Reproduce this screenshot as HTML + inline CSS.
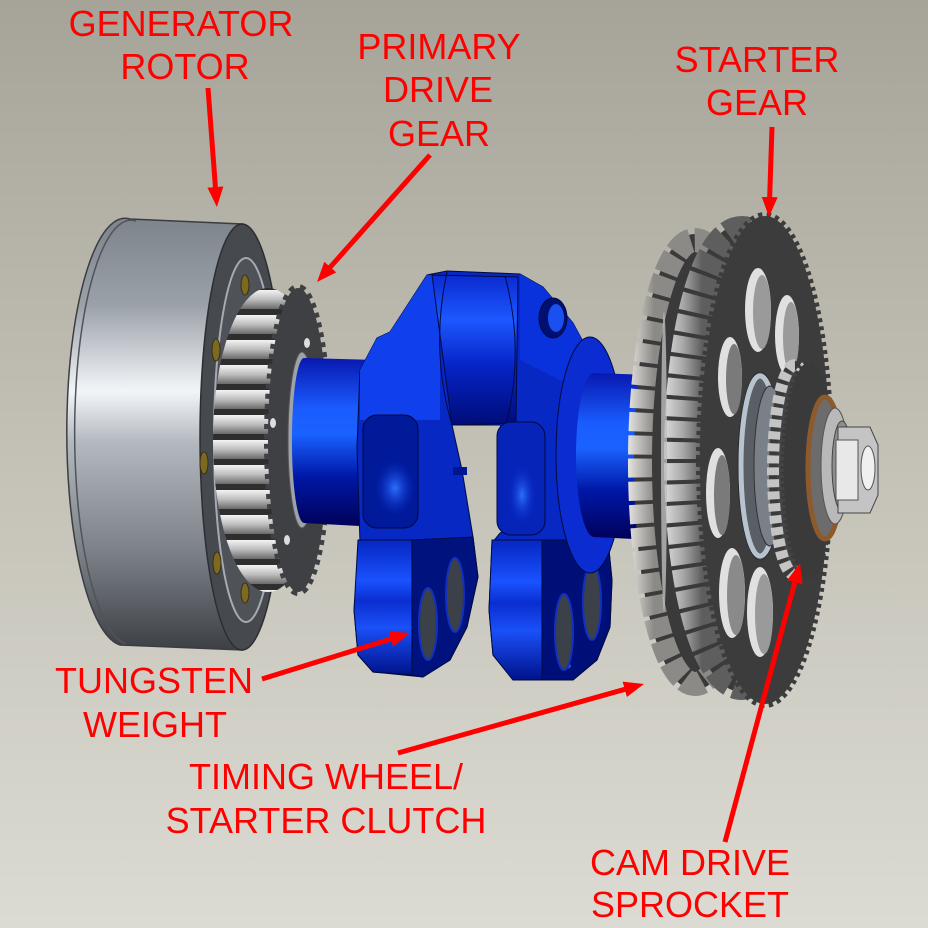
<!DOCTYPE html>
<html><head><meta charset="utf-8"><style>html,body{margin:0;padding:0;width:928px;height:928px;overflow:hidden;background:#c4c2b7}svg{display:block}</style></head>
<body>
<svg width="928" height="928" viewBox="0 0 928 928" xmlns="http://www.w3.org/2000/svg">
<defs>
 <linearGradient id="bg" x1="0" y1="0" x2="0" y2="1"><stop offset="0" stop-color="#a6a398"/><stop offset="0.5" stop-color="#c4c2b7"/><stop offset="1" stop-color="#dcdbd3"/></linearGradient>
 <linearGradient id="rot" x1="0" y1="219" x2="0" y2="650" gradientUnits="userSpaceOnUse">
  <stop offset="0" stop-color="#7e848c"/><stop offset="0.2" stop-color="#9ba1a9"/><stop offset="0.4" stop-color="#f2f5f8"/><stop offset="0.52" stop-color="#b3b8bf"/><stop offset="0.78" stop-color="#7a7f86"/><stop offset="1" stop-color="#3c4045"/></linearGradient>
 <linearGradient id="blue" x1="0" y1="0" x2="0" y2="1"><stop offset="0" stop-color="#0818b0"/><stop offset="0.3" stop-color="#1a5cff"/><stop offset="0.45" stop-color="#1a62ff"/><stop offset="0.7" stop-color="#0018a8"/><stop offset="1" stop-color="#000058"/></linearGradient>
 <linearGradient id="pin" x1="0" y1="0" x2="0" y2="1"><stop offset="0" stop-color="#0a2ad0"/><stop offset="0.3" stop-color="#1d58ff"/><stop offset="0.6" stop-color="#0624c8"/><stop offset="1" stop-color="#000c78"/></linearGradient>
 <linearGradient id="face" x1="0" y1="0" x2="0" y2="1"><stop offset="0" stop-color="#0626c0"/><stop offset="0.3" stop-color="#1a52ff"/><stop offset="0.45" stop-color="#0a2ed0"/><stop offset="0.65" stop-color="#1a50f8"/><stop offset="1" stop-color="#00128a"/></linearGradient>
 <linearGradient id="silv" x1="0" y1="0" x2="0" y2="1"><stop offset="0" stop-color="#f4f4f4"/><stop offset="0.5" stop-color="#bdbdbd"/><stop offset="1" stop-color="#6a6a6a"/></linearGradient>
 <linearGradient id="tw" x1="628" y1="0" x2="654" y2="0" gradientUnits="userSpaceOnUse"><stop offset="0" stop-color="#e6e4e0"/><stop offset="1" stop-color="#8c8a86"/></linearGradient>
 <linearGradient id="sb" x1="664" y1="0" x2="702" y2="0" gradientUnits="userSpaceOnUse"><stop offset="0" stop-color="#dcdcdc"/><stop offset="0.5" stop-color="#a8a8a8"/><stop offset="1" stop-color="#5e5e5e"/></linearGradient>
 <pattern id="teethL" patternUnits="userSpaceOnUse" x="0" y="288" width="100" height="25">
  <rect width="100" height="25" fill="#2e2e2e"/>
  <rect y="2" width="100" height="19" fill="url(#silv)"/>
 </pattern>
 <radialGradient id="hl" cx="0.5" cy="0.5" r="0.5"><stop offset="0" stop-color="#2c70ff"/><stop offset="1" stop-color="#0a2ac8" stop-opacity="0"/></radialGradient>
 <marker id="ah" viewBox="0 0 20 16" refX="8" refY="8" markerWidth="20" markerHeight="16" markerUnits="userSpaceOnUse" orient="auto"><path d="M0,0 L20,8 L0,16 Z" fill="#ff0000"/></marker>
</defs>
<rect width="928" height="928" fill="url(#bg)"/>

<!-- Generator rotor -->
<path d="M130,219 L242,224 L242,650 L120,645 A58,213 0 0 1 130,219 Z" fill="url(#rot)" stroke="#3a3d42" stroke-width="1.5"/>
<path d="M136,221 A56,211 0 0 0 126,644" fill="none" stroke="#50545a" stroke-width="1.5"/>
<ellipse cx="242" cy="437" rx="42" ry="213" fill="#46494e" stroke="#2c2e32" stroke-width="1.5"/>
<ellipse cx="246" cy="440" rx="32" ry="182" fill="#4f5258" stroke="#a5abb1" stroke-width="2"/>
<g fill="#7d6a22" stroke="#3a3010" stroke-width="1">
 <ellipse cx="245" cy="285" rx="4" ry="10"/><ellipse cx="216" cy="350" rx="4" ry="11"/><ellipse cx="204" cy="463" rx="4" ry="11"/><ellipse cx="217" cy="563" rx="4" ry="11"/><ellipse cx="245" cy="593" rx="4" ry="10"/>
</g>

<!-- Primary drive gear -->
<ellipse cx="268" cy="440" rx="55" ry="152" fill="url(#teethL)"/>
<ellipse cx="298" cy="440" rx="30" ry="152" fill="#3e4043"/>
<ellipse cx="298" cy="440" rx="30" ry="152" fill="none" stroke="#3e4043" stroke-width="8" stroke-dasharray="5 5"/>
<g fill="#dddddd"><ellipse cx="307" cy="343" rx="3" ry="5"/><ellipse cx="273" cy="423" rx="3" ry="5"/><ellipse cx="287" cy="540" rx="3" ry="5"/></g>
<ellipse cx="302" cy="440" rx="14" ry="88" fill="#9ea3a8" stroke="#555" stroke-width="1"/>

<!-- Left journal -->
<path d="M304,358 L378,360 L378,527 L304,523 A12,82 0 0 1 304,358 Z" fill="url(#blue)"/>

<!-- Crank silhouette -->
<path d="M360,370 L377,338 L390,332 L427,275 L447,271 L520,274 L543,287 L573,323 L593,360 L605,380 L608,540 L612,580 L610,627 L597,660 L573,680 L513,680 L493,655 L489,610 L492,543 L500,533 L513,527 L520,493 L513,447 L500,425 L452,425 L462,470 L473,537 L478,577 L467,627 L450,660 L423,677 L373,672 L358,655 L354,610 L360,543 L357,447 Z" fill="#0828c4" stroke="#000a40" stroke-width="1"/>
<path d="M360,370 L377,338 L390,332 L427,275 L440,275 L440,420 L360,420 Z" fill="#1040ec"/>
<path d="M432,275 L518,277 L516,423 L452,425 Z" fill="url(#pin)" stroke="#000a40" stroke-width="1"/>
<path d="M447,272 Q430,350 452,425" fill="none" stroke="#000a40" stroke-width="1"/>
<path d="M505,276 Q525,350 506,425" fill="none" stroke="#000a40" stroke-width="1"/>
<path d="M520,274 L543,287 L573,323 L593,360 L600,380 L560,380 L520,360 Z" fill="#0a32dc"/>
<ellipse cx="553" cy="318" rx="14" ry="20" fill="#001070" stroke="#000a40"/>
<ellipse cx="556" cy="318" rx="8" ry="14" fill="#1a50f0"/>
<rect x="363" y="415" width="55" height="113" rx="14" fill="#001a9a" stroke="#000840"/>
<ellipse cx="395" cy="488" rx="20" ry="28" fill="url(#hl)"/>
<rect x="497" y="422" width="48" height="113" rx="14" fill="#0624b8" stroke="#000840"/>
<ellipse cx="522" cy="495" rx="14" ry="30" fill="url(#hl)"/>
<rect x="453" y="467" width="14" height="8" fill="#001590"/>
<path d="M358,540 L412,540 L412,675 L373,672 L358,655 L354,610 Z" fill="url(#face)" stroke="#000a40" stroke-width="1"/>
<path d="M412,540 L473,537 L478,577 L467,627 L450,660 L423,677 L412,675 Z" fill="#00127e" stroke="#000a40" stroke-width="1"/>
<path d="M492,540 L542,540 L542,680 L513,680 L493,655 L489,610 Z" fill="url(#face)" stroke="#000a40" stroke-width="1"/>
<path d="M542,540 L608,540 L612,580 L610,627 L597,660 L573,680 L542,680 Z" fill="#000f78" stroke="#000a40" stroke-width="1"/>
<ellipse cx="565" cy="666" rx="6" ry="3" fill="#1a50ff"/>
<g fill="#3c4048" stroke="#1030c0" stroke-width="2">
 <ellipse cx="428" cy="624" rx="9" ry="36"/><ellipse cx="455" cy="595" rx="9" ry="37"/>
 <ellipse cx="564" cy="632" rx="9" ry="38"/><ellipse cx="592" cy="602" rx="9" ry="38"/>
</g>
<ellipse cx="590" cy="455" rx="34" ry="118" fill="#0a2cd0" stroke="#000a40" stroke-width="1"/>
<path d="M594,373 L652,375 L652,540 L594,537 A18,82 0 0 1 594,373 Z" fill="url(#blue)"/>

<!-- Timing wheel -->
<ellipse cx="695" cy="462" rx="55" ry="222" fill="#3a3a3a" stroke="#3a3a3a" stroke-width="12"/>
<ellipse cx="695" cy="462" rx="55" ry="222" fill="none" stroke="url(#tw)" stroke-width="24" stroke-dasharray="19 4"/>
<!-- Starter gear back flanks -->
<ellipse cx="742" cy="458" rx="60" ry="224" fill="#3a3a3a" stroke="#3a3a3a" stroke-width="20"/>
<ellipse cx="742" cy="458" rx="60" ry="224" fill="none" stroke="url(#sb)" stroke-width="36" stroke-dasharray="17 4"/>
<ellipse cx="664" cy="462" rx="3" ry="150" fill="#bdbdbd" opacity="0.8"/>
<!-- Starter gear front -->
<ellipse cx="765" cy="460" rx="65" ry="244" fill="#3c3c3c"/>
<ellipse cx="765" cy="460" rx="65" ry="244" fill="none" stroke="#3c3c3c" stroke-width="8" stroke-dasharray="4 4"/>
<g>
 <ellipse cx="758" cy="310" rx="13" ry="42" fill="#e0e0e0"/><ellipse cx="762" cy="312" rx="9" ry="37" fill="#9a9a9a"/>
 <ellipse cx="787" cy="335" rx="12" ry="40" fill="#e0e0e0"/><ellipse cx="791" cy="337" rx="8" ry="35" fill="#9a9a9a"/>
 <ellipse cx="730" cy="377" rx="12" ry="40" fill="#e0e0e0"/><ellipse cx="734" cy="379" rx="8" ry="35" fill="#7a7a7a"/>
 <ellipse cx="718" cy="493" rx="12" ry="45" fill="#e0e0e0"/><ellipse cx="722" cy="495" rx="8" ry="40" fill="#7a7a7a"/>
 <ellipse cx="732" cy="593" rx="13" ry="45" fill="#e0e0e0"/><ellipse cx="736" cy="595" rx="9" ry="40" fill="#8a8a8a"/>
 <ellipse cx="760" cy="612" rx="13" ry="45" fill="#e0e0e0"/><ellipse cx="764" cy="614" rx="9" ry="40" fill="#9a9a9a"/>
</g>
<!-- hub -->
<ellipse cx="760" cy="466" rx="22" ry="94" fill="#5a5f66" stroke="#2a2a2a"/>
<ellipse cx="760" cy="466" rx="19" ry="90" fill="none" stroke="#b7c3cf" stroke-width="5"/>
<ellipse cx="770" cy="466" rx="16" ry="80" fill="#7a8087" stroke="#333"/>
<!-- cam sprocket -->
<ellipse cx="795" cy="470" rx="22" ry="105" fill="#444" stroke="#3a3a3a" stroke-width="8"/>
<ellipse cx="795" cy="470" rx="22" ry="105" fill="none" stroke="#c4c4c4" stroke-width="12" stroke-dasharray="8 4"/>
<ellipse cx="808" cy="470" rx="24" ry="107" fill="#3a3a3a"/>
<ellipse cx="808" cy="470" rx="24" ry="107" fill="none" stroke="#3a3a3a" stroke-width="6" stroke-dasharray="3 3"/>
<ellipse cx="825" cy="468" rx="17" ry="71" fill="#6c6c6c" stroke="#8d5a2e" stroke-width="5"/>
<ellipse cx="835" cy="466" rx="14" ry="58" fill="#b9b9b9" stroke="#555"/>
<ellipse cx="842" cy="466" rx="10" ry="45" fill="#8e8e8e" stroke="#444"/>
<!-- nut -->
<polygon points="838,427 870,427 878,445 878,495 870,513 838,513" fill="#c4c4c4" stroke="#444"/>
<rect x="836" y="440" width="22" height="60" fill="#e8e8e8" stroke="#555"/>
<ellipse cx="868" cy="468" rx="7" ry="22" fill="#f0f0f0" stroke="#555"/>

<!-- Arrows -->
<g stroke="#ff0000" stroke-width="5" fill="none" marker-end="url(#ah)">
 <line x1="208" y1="88" x2="216" y2="195"/>
 <line x1="430" y1="155" x2="325" y2="273"/>
 <line x1="772" y1="127" x2="769.4" y2="205"/>
 <line x1="262" y1="679" x2="398.5" y2="636.6"/>
 <line x1="398" y1="753" x2="632.4" y2="687.2"/>
 <line x1="725" y1="842" x2="796.9" y2="574.6"/>
</g>

<!-- Labels -->
<g font-family="'Liberation Sans', Arial, sans-serif" font-size="36" fill="#ff0000" text-anchor="middle">
 <text x="181" y="36">GENERATOR</text>
 <text x="185" y="79">ROTOR</text>
 <text x="439" y="59">PRIMARY</text>
 <text x="438" y="102">DRIVE</text>
 <text x="439" y="146">GEAR</text>
 <text x="757" y="72">STARTER</text>
 <text x="757" y="115">GEAR</text>
 <text x="154" y="693">TUNGSTEN</text>
 <text x="155" y="737">WEIGHT</text>
 <text x="326" y="789">TIMING WHEEL/</text>
 <text x="326" y="833">STARTER CLUTCH</text>
 <text x="690" y="875">CAM DRIVE</text>
 <text x="690" y="917">SPROCKET</text>
</g>
</svg>
</body></html>
